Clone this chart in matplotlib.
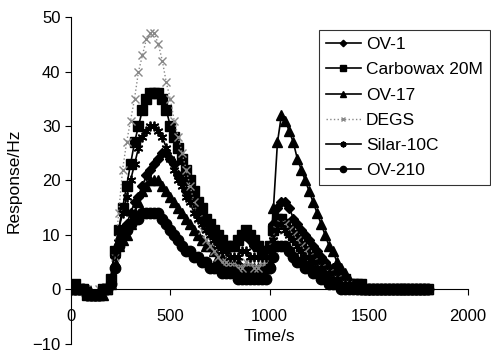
import numpy as np
import matplotlib
matplotlib.use("Agg")
import matplotlib.pyplot as plt

plt.rcParams['font.family'] = ['Liberation Sans', 'DejaVu Sans']

# time axis, one reading every 20 s
time_s = np.arange(0, 1801, 20)

ov1 = [0, 0, 0, 0, 0, -1, -1, -1, 0, 0,
       1, 6, 9, 10, 12, 14, 16, 17, 19, 21,
       22, 23, 24, 25, 25, 24, 23, 21, 20, 18,
       17, 16, 14, 13, 12, 11, 10, 9, 9, 8,
       8, 8, 9, 10, 10, 9, 8, 8, 7, 7,
       8, 12, 15, 16, 16, 15, 13, 12, 11, 10,
       9, 8, 7, 6, 5, 4, 4, 3, 2, 2,
       1, 1, 1, 0, 0, 0, 0, 0, 0, 0,
       0, 0, 0, 0, 0, 0, 0, 0, 0, 0,
       0]
carbowax = [0, 1, 0, 0, -1, -1, -1, -1, 0, 0,
            2, 7, 11, 15, 19, 23, 27, 30, 33, 35,
            36, 36, 36, 35, 33, 30, 28, 26, 24, 22,
            20, 18, 16, 15, 13, 12, 11, 10, 9, 8,
            8, 8, 9, 10, 11, 10, 9, 8, 7, 7,
            8, 11, 13, 13, 12, 11, 10, 9, 8, 7,
            6, 6, 5, 4, 4, 3, 3, 2, 2, 2,
            1, 1, 1, 1, 0, 0, 0, 0, 0, 0,
            0, 0, 0, 0, 0, 0, 0, 0, 0, 0,
            0]
ov17 = [0, 0, 0, 0, 0, -1, -1, -1, -1, 0,
        1, 5, 8, 9, 10, 12, 14, 16, 18, 19,
        20, 20, 20, 19, 18, 17, 16, 15, 14, 13,
        12, 11, 10, 9, 8, 8, 7, 6, 6, 5,
        5, 5, 5, 4, 4, 4, 4, 4, 4, 4,
        5, 15, 27, 32, 31, 29, 27, 24, 22, 20,
        18, 16, 14, 12, 10, 8, 7, 5, 4, 3,
        2, 1, 1, 0, 0, 0, 0, 0, 0, 0,
        0, 0, 0, 0, 0, 0, 0, 0, 0, 0,
        0]
degs = [0, 0, 0, 0, 0, -1, -1, 0, 0, 0,
        1, 6, 14, 22, 27, 31, 35, 40, 43, 46,
        47, 47, 45, 42, 38, 35, 31, 28, 25, 22,
        19, 16, 13, 11, 9, 8, 7, 6, 5, 5,
        5, 5, 4, 4, 5, 5, 4, 4, 5, 5,
        6, 9, 11, 12, 12, 11, 10, 9, 8, 7,
        6, 5, 4, 4, 3, 3, 2, 2, 1, 1,
        1, 0, 0, 0, 0, 0, 0, 0, 0, 0,
        0, 0, 0, 0, 0, 0, 0, 0, 0, 0,
        0]
silar = [0, 0, 0, 0, 0, -1, -1, -1, 0, 0,
         2, 7, 11, 14, 17, 20, 23, 26, 28, 29,
         30, 30, 29, 28, 26, 24, 22, 20, 19, 17,
         16, 14, 13, 12, 11, 10, 9, 8, 7, 7,
         6, 6, 6, 7, 7, 6, 6, 6, 6, 6,
         7, 9, 11, 12, 11, 10, 9, 8, 7, 6,
         6, 5, 4, 4, 3, 3, 2, 2, 1, 1,
         1, 1, 0, 0, 0, 0, 0, 0, 0, 0,
         0, 0, 0, 0, 0, 0, 0, 0, 0, 0,
         0]
ov210 = [0, 0, 0, 0, -1, -1, -1, -1, 0, 0,
         1, 4, 8, 10, 11, 12, 13, 13, 14, 14,
         14, 14, 14, 13, 12, 11, 10, 9, 8, 7,
         7, 6, 6, 5, 5, 4, 4, 4, 3, 3,
         3, 3, 2, 2, 2, 2, 2, 2, 2, 2,
         4, 6, 8, 8, 8, 7, 6, 5, 5, 4,
         4, 3, 3, 2, 2, 1, 1, 1, 0, 0,
         0, 0, 0, 0, 0, 0, 0, 0, 0, 0,
         0, 0, 0, 0, 0, 0, 0, 0, 0, 0,
         0]

fig = plt.figure(figsize=(4.91, 3.56), dpi=100)
ax = fig.add_axes([0.1446, 0.034, 0.8086, 0.918])

ax.plot(time_s, ov1, color='black', lw=1.2, marker='D', ms=5.5, label='OV-1')
ax.plot(time_s, carbowax, color='black', lw=1.2, marker='s', ms=6.5, label='Carbowax 20M')
ax.plot(time_s, ov17, color='black', lw=1.2, marker='^', ms=7.5, label='OV-17')
ax.plot(time_s, degs, color='#888888', lw=1, ls=':', marker='x', ms=6, label='DEGS')
ax.plot(time_s, silar, color='black', lw=1.2, marker=(6, 2, 0), ms=7, mew=1.3, label='Silar-10C')
ax.plot(time_s, ov210, color='black', lw=1.2, marker='o', ms=7.5, label='OV-210')

ax.set_xlim(0, 2000)
ax.set_ylim(-10, 50)
ax.set_xticks([0, 500, 1000, 1500, 2000])
ax.set_yticks([-10, 0, 10, 20, 30, 40, 50])
ax.spines['top'].set_visible(False)
ax.spines['right'].set_visible(False)
ax.spines['bottom'].set_position(('data', 0))
ax.tick_params(axis='both', labelsize=12, direction='out', length=4, width=0.8)
ax.tick_params(axis='x', pad=10)

ax.set_xlabel('Time/s', fontsize=12.5)
ax.xaxis.set_label_coords(0.5, 0.045)
ax.set_ylabel('Response/Hz', fontsize=12.5)
ax.yaxis.set_label_coords(-0.125, 0.5)

leg = ax.legend(loc='upper right', bbox_to_anchor=(1.055, 0.96), borderaxespad=0,
                fontsize=12.5, frameon=True, fancybox=False, edgecolor='black',
                handlelength=2.0, labelspacing=0.58, borderpad=0.4,
                handletextpad=0.3, markerscale=0.6)
leg.get_frame().set_linewidth(0.8)

fig.savefig('out.png', dpi=100)
